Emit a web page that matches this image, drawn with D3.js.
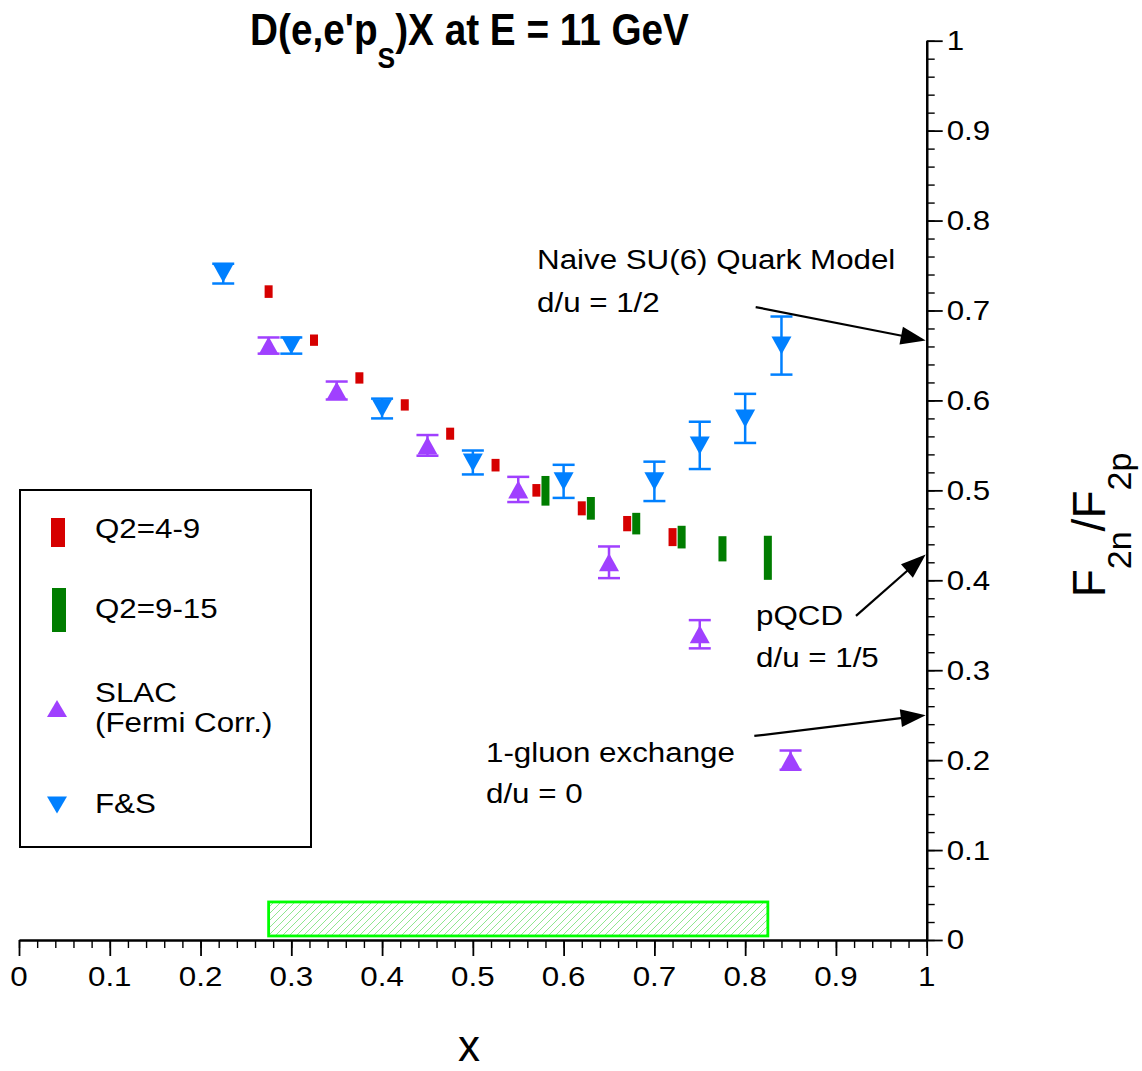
<!DOCTYPE html>
<html>
<head>
<meta charset="utf-8">
<script src="https://cdn.jsdelivr.net/npm/d3@7"></script>
<style>
  html, body { margin: 0; padding: 0; background: #fff; }
  svg { display: block; font-family: "Liberation Sans", Arial, Helvetica, sans-serif; }
</style>
</head>
<body>
<svg id="chart" width="1142" height="1071"></svg>
<script>
// ---- data ----------------------------------------------------------------
// Q2 = 4-9 GeV^2 projected points (x, F2n/F2p, error)
const q2LowX   = [0.275, 0.325, 0.375, 0.425, 0.475, 0.525, 0.570, 0.620, 0.670, 0.720];
const q2LowY   = [0.721, 0.667, 0.625, 0.595, 0.563, 0.528, 0.500, 0.480, 0.463, 0.448];
const q2LowErr = [0.0070, 0.0063, 0.0063, 0.0063, 0.0067, 0.0070, 0.0070, 0.0078, 0.0085, 0.0100];

// Q2 = 9-15 GeV^2 projected points
const q2HighX   = [0.580, 0.630, 0.680, 0.730, 0.775, 0.825];
const q2HighY   = [0.4995, 0.480, 0.463, 0.448, 0.435, 0.425];
const q2HighErr = [0.0165, 0.0126, 0.0120, 0.0126, 0.0140, 0.0245];

// SLAC (Fermi corrected)
const slacX   = [0.275, 0.350, 0.450, 0.550, 0.650, 0.750, 0.850];
const slacY   = [0.661, 0.611, 0.550, 0.501, 0.420, 0.340, 0.200];
const slacErr = [0.0090, 0.0100, 0.0115, 0.0140, 0.0176, 0.0157, 0.0107];

// F&S
const fsX   = [0.225, 0.300, 0.400, 0.500, 0.600, 0.700, 0.750, 0.800, 0.840];
const fsY   = [0.741, 0.661, 0.591, 0.531, 0.510, 0.510, 0.550, 0.580, 0.661];
const fsErr = [0.0110, 0.0090, 0.0110, 0.0133, 0.0184, 0.0219, 0.0263, 0.0273, 0.0323];

// kinematic coverage band
const coverageX = [0.275, 0.825];
const coverageY = [0.0045, 0.0423];

// axis ticks
const xTickValues = [0, 0.1, 0.2, 0.3, 0.4, 0.5, 0.6, 0.7, 0.8, 0.9, 1];
const xTickLabels = ["0", "0.1", "0.2", "0.3", "0.4", "0.5", "0.6", "0.7", "0.8", "0.9", "1"];
const yTickValues = [0, 0.1, 0.2, 0.3, 0.4, 0.5, 0.6, 0.7, 0.8, 0.9, 1];
const yTickLabels = ["0", "0.1", "0.2", "0.3", "0.4", "0.5", "0.6", "0.7", "0.8", "0.9", "1"];

// model predictions at x -> 1 (arrow tip value, arrow tail, text lines)
const modelNames  = ["Naive SU(6) Quark Model", "pQCD", "1-gluon exchange"];
const modelRatios = ["d/u = 1/2", "d/u = 1/5", "d/u = 0"];
const modelValues = [2 / 3, 3 / 7, 1 / 4];
const arrowTailX  = [0.8116, 0.9221, 0.8101];
const arrowTailY  = [0.7038, 0.3604, 0.2269];
const textX       = [0.5707, 0.8120, 0.5145];
const textY       = [0.7464, 0.3504, 0.1980];
const textY2      = [0.6986, 0.3037, 0.1524];

// ---- setup ---------------------------------------------------------------
const svg = d3.select("#chart");
const x = d3.scaleLinear().domain([0, 1]).range([19, 926.7]);
const y = d3.scaleLinear().domain([0, 1]).range([940, 40.7]);

const COL = { red: "#d60000", green: "#007d00", purple: "#a040ff", blue: "#0080ff" };
const FS = 27, SX = 1.16;

function label(parent, px, py, str, size, sx, anchor, weight) {
  const t = parent.append("g")
    .attr("transform", `translate(${px},${py}) scale(${sx},1)`)
    .append("text")
    .attr("text-anchor", anchor || "start")
    .attr("font-size", size)
    .attr("fill", "#000")
    .text(str);
  if (weight) t.attr("font-weight", weight);
  return t;
}

// ---- coverage band -------------------------------------------------------
const defs = svg.append("defs");
defs.append("pattern")
  .attr("id", "hatch")
  .attr("patternUnits", "userSpaceOnUse")
  .attr("width", 7).attr("height", 7)
  .append("path")
  .attr("d", "M-1,8 L8,-1 M-4,4 L4,-4 M3,11 L11,3")
  .attr("stroke", "#72e072").attr("stroke-width", 0.8);

svg.append("rect")
  .attr("x", x(coverageX[0]))
  .attr("y", y(coverageY[1]))
  .attr("width", x(coverageX[1]) - x(coverageX[0]))
  .attr("height", y(coverageY[0]) - y(coverageY[1]))
  .attr("fill", "url(#hatch)")
  .attr("stroke", "#00ff00").attr("stroke-width", 2.8);

// ---- axes ----------------------------------------------------------------
const minor = d3.range(0, 1.0001, 0.02);

function styleAxis(g, w) {
  g.selectAll("text").remove();
  g.select(".domain").attr("stroke", "#000").attr("stroke-width", 2.2);
  g.selectAll(".tick line").attr("stroke", "#000").attr("stroke-width", w);
}

svg.append("g").attr("transform", `translate(0,${y(0)})`)
  .call(d3.axisBottom(x).tickValues(minor).tickSize(8).tickSizeOuter(0))
  .call(g => styleAxis(g, 1.4));
svg.append("g").attr("transform", `translate(0,${y(0)})`)
  .call(d3.axisBottom(x).tickValues(xTickValues).tickSize(16).tickSizeOuter(0))
  .call(g => styleAxis(g, 1.8));

svg.append("g").attr("transform", `translate(${x(1)},0)`)
  .call(d3.axisRight(y).tickValues(minor).tickSize(8).tickSizeOuter(0))
  .call(g => styleAxis(g, 1.4));
svg.append("g").attr("transform", `translate(${x(1)},0)`)
  .call(d3.axisRight(y).tickValues(yTickValues).tickSize(16).tickSizeOuter(0))
  .call(g => styleAxis(g, 1.8));

const labels = svg.append("g");
xTickValues.forEach((v, i) => label(labels, x(v), 986, xTickLabels[i], FS, SX, "middle"));
yTickValues.forEach((v, i) =>
  label(labels, x(1) + 20, y(v), yTickLabels[i], FS, SX, "start").attr("dy", "0.35em"));

// axis titles
svg.append("text").attr("x", 469).attr("y", 1061)
  .attr("text-anchor", "middle").attr("font-size", 44).text("x");

const yt = svg.append("g").attr("transform", "translate(1105,525) rotate(-90)")
  .append("text").attr("text-anchor", "middle").attr("font-size", 46);
yt.append("tspan").text("F");
yt.append("tspan").attr("font-size", 34).attr("dy", 26).text("2n");
yt.append("tspan").attr("font-size", 46).attr("dy", -26).text("/F");
yt.append("tspan").attr("font-size", 34).attr("dy", 26).text("2p");

// title
const tt = svg.append("g").attr("transform", "translate(469.5,45) scale(0.88,1)")
  .append("text").attr("text-anchor", "middle").attr("font-size", 44).attr("font-weight", "bold");
tt.append("tspan").text("D(e,e'p");
tt.append("tspan").attr("font-size", 30).attr("dy", 23).text("S");
tt.append("tspan").attr("font-size", 44).attr("dy", -23).text(")X at E = 11 GeV");

// ---- data marks ----------------------------------------------------------
function boxes(xs, ys, es, color) {
  svg.append("g").selectAll("rect")
    .data(xs.map((v, i) => ({ x: v, y: ys[i], e: es[i] })))
    .join("rect")
    .attr("x", d => x(d.x) - 4)
    .attr("y", d => y(d.y + d.e))
    .attr("width", 8)
    .attr("height", d => y(d.y - d.e) - y(d.y + d.e))
    .attr("fill", color);
}

function triangle(cx, cy, up, hw, hh) {
  return up
    ? `M${cx - hw},${cy + hh}L${cx + hw},${cy + hh}L${cx},${cy - hh}Z`
    : `M${cx - hw},${cy - hh}L${cx + hw},${cy - hh}L${cx},${cy + hh}Z`;
}

function errorPoints(xs, ys, es, color, up) {
  const g = svg.append("g");
  const pts = xs.map((v, i) => ({ x: v, y: ys[i], e: es[i] }));
  const bars = g.selectAll("g.eb").data(pts).join("g").attr("class", "eb")
    .attr("stroke", color).attr("stroke-width", 2.5);
  bars.append("line")
    .attr("x1", d => x(d.x)).attr("x2", d => x(d.x))
    .attr("y1", d => y(d.y + d.e)).attr("y2", d => y(d.y - d.e));
  bars.append("line")
    .attr("x1", d => x(d.x) - 11).attr("x2", d => x(d.x) + 11)
    .attr("y1", d => y(d.y + d.e)).attr("y2", d => y(d.y + d.e));
  bars.append("line")
    .attr("x1", d => x(d.x) - 11).attr("x2", d => x(d.x) + 11)
    .attr("y1", d => y(d.y - d.e)).attr("y2", d => y(d.y - d.e));
  g.selectAll("path").data(pts).join("path")
    .attr("d", d => triangle(x(d.x), y(d.y), up, 10, 9))
    .attr("fill", color);
}

boxes(q2LowX, q2LowY, q2LowErr, COL.red);
boxes(q2HighX, q2HighY, q2HighErr, COL.green);
errorPoints(slacX, slacY, slacErr, COL.purple, true);
errorPoints(fsX, fsY, fsErr, COL.blue, false);

// ---- model annotations ---------------------------------------------------
const ann = svg.append("g");
modelValues.forEach((v, i) => {
  const x0 = x(arrowTailX[i]), y0 = y(arrowTailY[i]);
  const x1 = x(1) - 1, y1 = y(v);
  const dx = x1 - x0, dy = y1 - y0, len = Math.hypot(dx, dy);
  const ux = dx / len, uy = dy / len;
  const L = 25, W = 9;
  const bx = x1 - ux * L, by = y1 - uy * L;
  ann.append("line").attr("x1", x0).attr("y1", y0).attr("x2", bx + ux * 2).attr("y2", by + uy * 2)
    .attr("stroke", "#000").attr("stroke-width", 2.2);
  ann.append("path")
    .attr("d", `M${x1},${y1}L${bx - uy * W},${by + ux * W}L${bx + uy * W},${by - ux * W}Z`)
    .attr("fill", "#000");
  label(ann, x(textX[i]), y(textY[i]), modelNames[i], FS, SX, "start");
  label(ann, x(textX[i]), y(textY2[i]), modelRatios[i], FS, SX, "start");
});

// ---- legend --------------------------------------------------------------
const lg = svg.append("g");
lg.append("rect").attr("x", 20).attr("y", 490).attr("width", 291).attr("height", 357)
  .attr("fill", "none").attr("stroke", "#000").attr("stroke-width", 2);
lg.append("rect").attr("x", 51).attr("y", 518).attr("width", 14).attr("height", 29).attr("fill", COL.red);
lg.append("rect").attr("x", 52).attr("y", 588).attr("width", 14).attr("height", 44).attr("fill", COL.green);
lg.append("path").attr("d", triangle(57, 708.5, true, 10, 8.5)).attr("fill", COL.purple);
lg.append("path").attr("d", triangle(57, 805, false, 10, 8.5)).attr("fill", COL.blue);
label(lg, 95, 538, "Q2=4-9", FS, SX);
label(lg, 95, 618, "Q2=9-15", FS, SX);
label(lg, 95, 702, "SLAC", FS, SX);
label(lg, 95, 732, "(Fermi Corr.)", FS, SX);
label(lg, 95, 813, "F&S", FS, SX);
</script>
</body>
</html>
